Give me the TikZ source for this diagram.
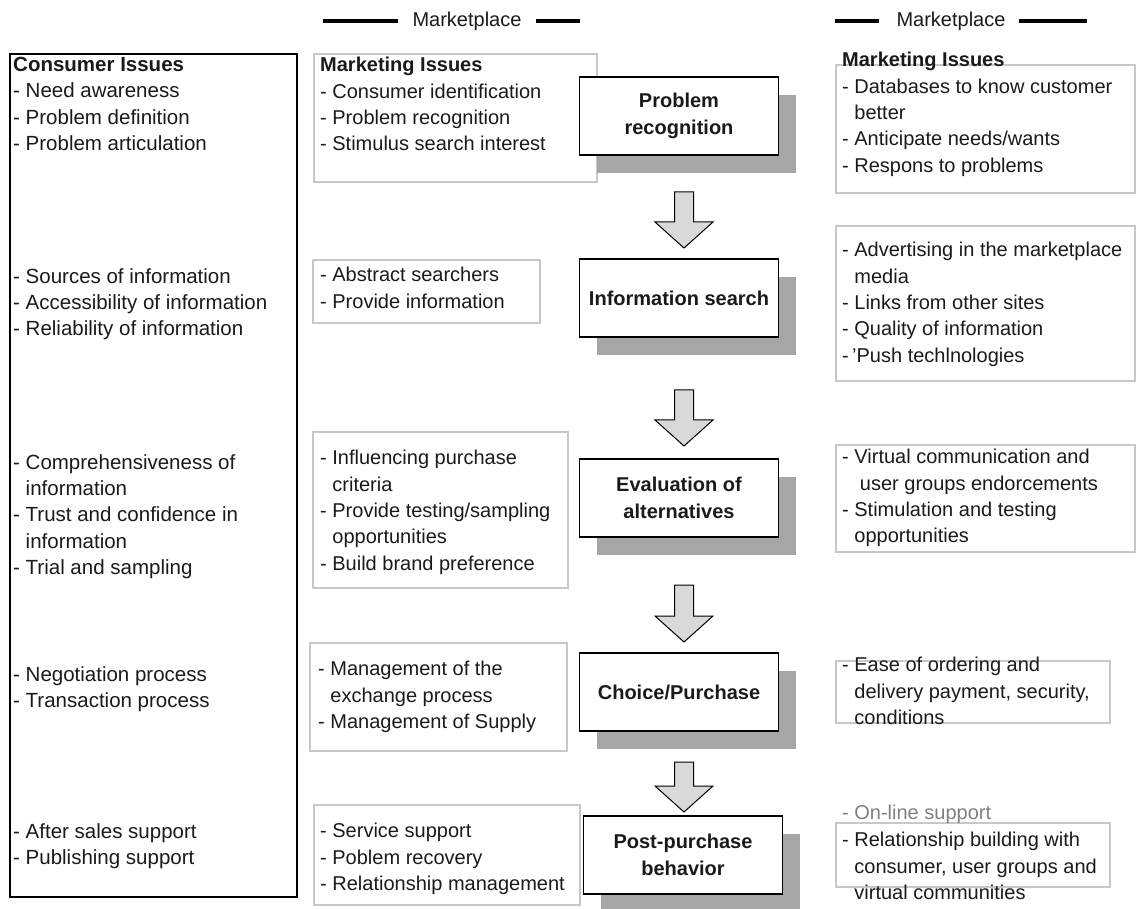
\documentclass[tikz,border=0pt]{standalone}
\usepackage{fontspec}
\setmainfont{Liberation Sans}
\usetikzlibrary{shadows,calc}
\definecolor{boxline}{HTML}{C8C8C8}
\definecolor{shade}{HTML}{A6A6A6}
\definecolor{arrowfill}{HTML}{D9D9D9}
\definecolor{ink}{HTML}{1A1A1A}
\definecolor{faint}{HTML}{808080}
\newcommand\blockarr[2]{\filldraw[blockarrow] ($(#1)+(-9.5,0)$) -- ($(#1)+(9.5,0)$) -- ($(#2)+(9.5,-26)$) -- ($(#2)+(29,-26)$) -- (#2) -- ($(#2)+(-29,-26)$) -- ($(#2)+(-9.5,-26)$) -- cycle;}
\begin{document}
\begin{tikzpicture}[x=1pt,y=-1pt,
  txt/.style={anchor=north west,inner sep=0pt,align=left,font=\fontsize{20}{26.4}\selectfont,text=ink},
  ltxt/.style={txt,font=\fontsize{20.5}{26.4}\selectfont},
  proc/.style={draw=black,line width=1.6pt,fill=white,minimum width=199pt,minimum height=78pt,align=center,font=\fontsize{20}{26.4}\selectfont\bfseries,text=ink,inner sep=0pt,drop shadow={shadow xshift=17pt,shadow yshift=-18pt,fill=shade,opacity=1}},
  issuebox/.style={draw=boxline,line width=1.1pt},
  consumerbox/.style={draw=black,line width=1.8pt},
  blockarrow/.style={draw=black,line width=1pt,fill=arrowfill,line join=miter},
  hdr/.style={inner sep=0pt,font=\fontsize{20}{24}\selectfont,text=ink},
  hdrline/.style={line width=4pt}]
\useasboundingbox (0,0) rectangle (1136,909);
% headers
\node[hdr] (mp1) at (467,21) {Marketplace};
\draw[hdrline] ($(mp1.west)+(-14,0)$) -- ++(-75,0);
\draw[hdrline] ($(mp1.east)+(14,0)$) -- ++(44,0);
\node[hdr] (mp2) at (951,21) {Marketplace};
\draw[hdrline] ($(mp2.west)+(-17,0)$) -- ++(-44,0);
\draw[hdrline] ($(mp2.east)+(13,0)$) -- ++(68,0);
% consumer column
\draw[consumerbox] (10,54) rectangle (297,897);
\node[ltxt] (l1) at (13,57) {\textbf{Consumer Issues}\\- Need awareness\\- Problem definition\\- Problem articulation};
\node[ltxt] (l2) at (13,268) {- Sources of information\\- Accessibility of information\\- Reliability of information};
\node[ltxt] (l3) at (13,454) {- Comprehensiveness of\\\phantom{- }information\\- Trust and confidence in\\\phantom{- }information\\- Trial and sampling};
\node[ltxt] (l4) at (13,666) {- Negotiation process\\- Transaction process};
\node[ltxt] (l5) at (13,823) {- After sales support\\- Publishing support};
% middle marketing issues
\draw[issuebox] (314,54) rectangle (597,182);
\node[txt] (m1) at (320,57) {\textbf{Marketing Issues}\\- Consumer identification\\- Problem recognition\\- Stimulus search interest};
\draw[issuebox] (313,260) rectangle (540,323);
\node[txt] (m2) at (320,267) {- Abstract searchers\\- Provide information};
\draw[issuebox] (313,432) rectangle (568,588);
\node[txt] (m3) at (320,450) {- Influencing purchase\\\phantom{- }criteria\\- Provide testing/sampling\\\phantom{- }opportunities\\- Build brand preference};
\draw[issuebox] (310,643) rectangle (567,751);
\node[txt] (m4) at (318,661) {- Management of the\\\phantom{- }exchange process\\- Management of Supply};
\draw[issuebox] (314,805) rectangle (580,905);
\node[txt] (m5) at (320,823) {- Service support\\- Poblem recovery\\- Relationship management};
% process
\node[proc] (p1) at (679,116) {Problem\\recognition};
\node[proc] (p2) at (679,298) {Information search};
\node[proc] (p3) at (679,498) {Evaluation of\\alternatives};
\node[proc] (p4) at (679,692) {Choice/Purchase};
\node[proc] (p5) at (683,855) {Post-purchase\\behavior};
\coordinate (a1s) at (684,192); \coordinate (a1e) at (684,248);
\coordinate (a2s) at (684,390); \coordinate (a2e) at (684,446);
\coordinate (a3s) at (684,585); \coordinate (a3e) at (684,642);
\coordinate (a4s) at (684,762); \coordinate (a4e) at (684,812);
\blockarr{a1s}{a1e}
\blockarr{a2s}{a2e}
\blockarr{a3s}{a3e}
\blockarr{a4s}{a4e}
% right marketing issues
\draw[issuebox] (836,65) rectangle (1135,193);
\node[txt] (r1) at (842,52) {\textbf{Marketing Issues}\\- Databases to know customer\\\phantom{- }better\\- Anticipate needs/wants\\- Respons to problems};
\draw[issuebox] (836,226) rectangle (1135,381);
\node[txt] (r2) at (842,242) {- Advertising in the marketplace\\\phantom{- }media\\- Links from other sites\\- Quality of information\\-\,'Push techlnologies};
\draw[issuebox] (836,445) rectangle (1135,552);
\node[txt] (r3) at (842,449) {- Virtual communication and\\\phantom{- } user groups endorcements\\- Stimulation and testing\\\phantom{- }opportunities};
\draw[issuebox] (836,661) rectangle (1110,723);
\node[txt] (r4) at (842,657) {- Ease of ordering and\\\phantom{- }delivery payment, security,\\\phantom{- }conditions};
\draw[issuebox] (836,823) rectangle (1110,887);
\node[txt,text=faint] (r5a) at (842,805) {- On-line support};
\node[txt] (r5) at (842,832) {- Relationship building with\\\phantom{- }consumer, user groups and\\\phantom{- }virtual communities};
\end{tikzpicture}
\end{document}
